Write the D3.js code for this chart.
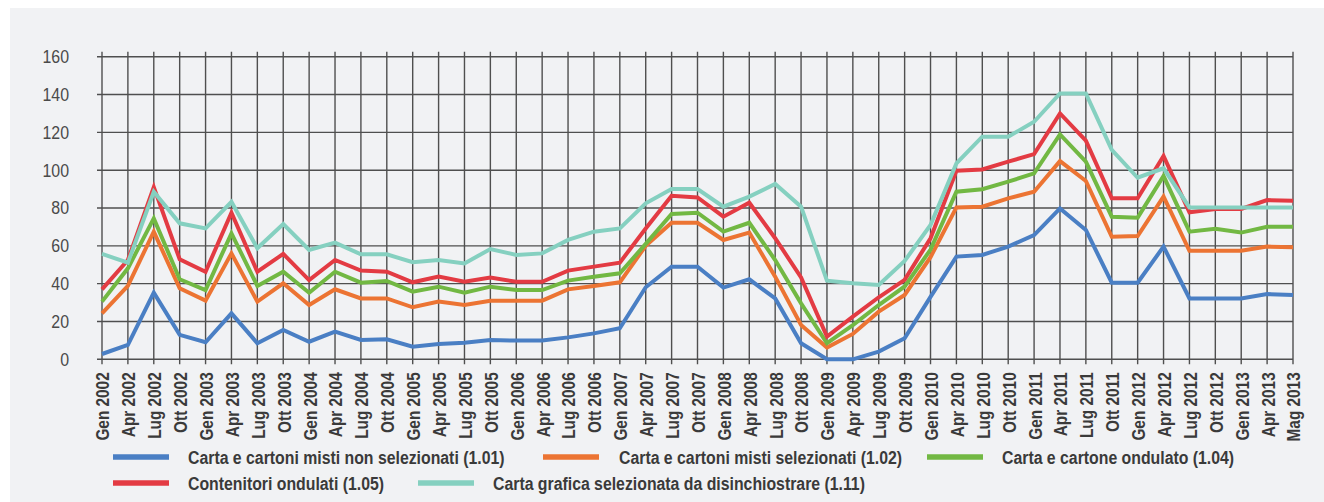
<!DOCTYPE html>
<html>
<head>
<meta charset="utf-8">
<script src="https://cdn.jsdelivr.net/npm/d3@7"></script>
<style>
  html, body { margin: 0; padding: 0; background: #ffffff; }
  svg { display: block; }
  .ylab { font-family: "Liberation Sans", Arial, sans-serif; font-size: 18.5px; fill: #4a4a4a; }
  .xlab { font-family: "Liberation Sans", Arial, sans-serif; font-weight: bold; font-size: 18.5px; fill: #3a3a3a; }
  .leg  { font-family: "Liberation Sans", Arial, sans-serif; font-weight: bold; font-size: 18.5px; fill: #3a3a3a; }
</style>
</head>
<body>
<script>
// Quarterly price index of paper grades, Jan 2002 – May 2013
const categories = [
  "Gen 2002","Apr 2002","Lug 2002","Ott 2002",
  "Gen 2003","Apr 2003","Lug 2003","Ott 2003",
  "Gen 2004","Apr 2004","Lug 2004","Ott 2004",
  "Gen 2005","Apr 2005","Lug 2005","Ott 2005",
  "Gen 2006","Apr 2006","Lug 2006","Ott 2006",
  "Gen 2007","Apr 2007","Lug 2007","Ott 2007",
  "Gen 2008","Apr 2008","Lug 2008","Ott 2008",
  "Gen 2009","Apr 2009","Lug 2009","Ott 2009",
  "Gen 2010","Apr 2010","Lug 2010","Ott 2010",
  "Gen 2011","Apr 2011","Lug 2011","Ott 2011",
  "Gen 2012","Apr 2012","Lug 2012","Ott 2012",
  "Gen 2013","Apr 2013","Mag 2013"
];

const misti_non_selezionati = [2.8,7.6,35.2,12.9,9,24.3,8.5,15.5,9.3,14.6,10.2,10.6,6.7,8.1,8.8,10.2,9.9,9.9,11.6,13.7,16.4,38.1,49,49,37.9,42.3,32.2,8.5,0,0,4.1,11.1,33,54.3,55.2,59.6,65.7,79.8,68.4,40.5,40.5,59.6,32.2,32.2,32.2,34.5,34];
const misti_selezionati = [24.3,38.8,67.5,37.5,31,56,30.5,40.2,28.7,37,32.2,32.2,27.5,30.5,28.7,31,31,31,37,38.8,40.7,60,72.2,72.2,63.1,67,43.7,18.1,6.2,13.4,25.2,34,54,80.3,80.7,85.1,88.6,104.8,94.3,64.8,65.2,86,57.4,57.4,57.4,59.6,59.2];
const cartone_ondulato = [30.5,48.1,74.5,42.3,36.6,66.6,38.8,46.3,35.2,46.3,40.5,41.4,35.8,38.4,35.2,38.4,36.6,36.6,41.6,43.7,45.5,61,76.8,77.5,67.5,72.2,52.5,29.6,8.5,18.1,28.7,38.5,58,88.6,89.9,93.9,98.3,118.9,104.5,75.4,74.9,96.9,67.5,69,67,70.1,70.1];
const contenitori_ondulati = [37,52.5,91,52.9,46.3,77.5,46.3,55.7,41.9,52.5,46.9,46.3,40.7,43.7,41,43.2,41,41,46.9,49,51.1,69.2,86.5,85.6,75.4,82.8,64,43.3,12,22.6,32.8,42,64,99.7,100.4,104.5,108.5,130,115.6,85.1,85.1,107.5,77.7,79.5,79.5,84.2,83.8];
const carta_grafica = [55.7,51.1,88.6,71.9,69.2,83.3,58.7,71.5,57.8,61.7,55.5,55.5,51.3,52.5,50.7,58.3,55.2,56,63.1,67.5,69.2,82.5,90,90,80.7,86,92.7,80.7,41.6,40.2,39.3,52,71,103.6,117.7,117.7,125.6,140.6,140.6,110.7,96,101,80.3,80.3,80.3,80.3,80.3];

const seriesNames = [
  "Carta e cartoni misti non selezionati (1.01)",
  "Carta e cartoni misti selezionati (1.02)",
  "Carta e cartone ondulato (1.04)",
  "Contenitori ondulati (1.05)",
  "Carta grafica selezionata da disinchiostrare (1.11)"
];
const seriesColors = ["#4a7fc4", "#ec7433", "#72b843", "#e33b43", "#85d0c0"];
const yTicks = [0, 20, 40, 60, 80, 100, 120, 140, 160];

const series = [misti_non_selezionati, misti_selezionati, cartone_ondulato, contenitori_ondulati, carta_grafica]
  .map((values, i) => ({ name: seriesNames[i], color: seriesColors[i], values }));

const W = 1324, H = 502;
const plotLeft = 102, plotRight = 1293, plotTop = 56.7, plotBottom = 359.3;
// horizontal squeeze giving the condensed type look
const condBold = 0.83, condReg = 0.86;

const svg = d3.select("body").append("svg").attr("width", W).attr("height", H);

// panel background
svg.append("rect").attr("x", 10).attr("y", 8).attr("width", W - 10).attr("height", H - 8).attr("fill", "#f1f2f4");

const x = d3.scalePoint().domain(categories).range([plotLeft, plotRight]).padding(0);
const y = d3.scaleLinear().domain([0, 160]).range([plotBottom, plotTop]);

const grid = svg.append("g").attr("stroke", "#4f4f4f").attr("stroke-width", 1.4);

// vertical grid lines with tick stubs above and below
grid.selectAll("line.v").data(categories).join("line")
  .attr("class", "v")
  .attr("x1", d => x(d)).attr("x2", d => x(d))
  .attr("y1", plotTop - 5).attr("y2", plotBottom + 5);

// horizontal grid lines with tick stubs to the left
grid.selectAll("line.h").data(yTicks).join("line")
  .attr("class", "h")
  .attr("x1", plotLeft - 5).attr("x2", plotRight)
  .attr("y1", d => y(d)).attr("y2", d => y(d));

// y labels
svg.append("g").selectAll("text").data(yTicks).join("text")
  .attr("class", "ylab")
  .attr("transform", d => `translate(69,${y(d)}) scale(${condReg},1)`)
  .attr("dy", "0.35em")
  .attr("text-anchor", "end")
  .text(d => d);

// x labels, rotated
svg.append("g").selectAll("text").data(categories).join("text")
  .attr("class", "xlab")
  .attr("transform", d => `translate(${x(d)},${plotBottom + 13}) rotate(-90) scale(${condBold},1)`)
  .attr("text-anchor", "end")
  .attr("dy", "0.4em")
  .text(d => d);

// series lines
const line = d3.line().x((d, i) => x(categories[i])).y(d => y(d));
svg.append("g").selectAll("path").data(series).join("path")
  .attr("fill", "none")
  .attr("stroke", d => d.color)
  .attr("stroke-width", 4)
  .attr("stroke-linejoin", "miter")
  .attr("d", d => line(d.values));

// legend
const legendPos = [
  { sx: 113, tx: 188, y: 457 },
  { sx: 543, tx: 619, y: 457 },
  { sx: 927, tx: 1002, y: 457 },
  { sx: 113, tx: 188, y: 483 },
  { sx: 418, tx: 493, y: 483 }
];
const leg = svg.append("g");
series.forEach((s, i) => {
  const p = legendPos[i];
  leg.append("line")
    .attr("x1", p.sx).attr("x2", p.sx + 56)
    .attr("y1", p.y).attr("y2", p.y)
    .attr("stroke", s.color).attr("stroke-width", 5.5);
  leg.append("text")
    .attr("class", "leg")
    .attr("transform", `translate(${p.tx},${p.y}) scale(0.856,1)`)
    .attr("dy", "0.36em")
    .text(s.name);
});
</script>
</body>
</html>
